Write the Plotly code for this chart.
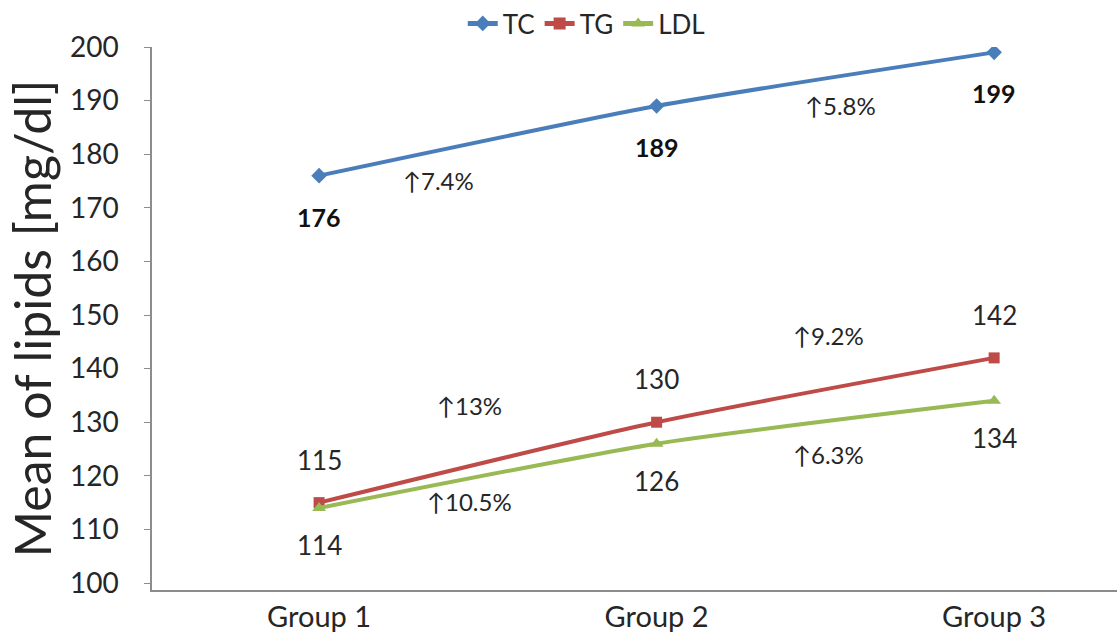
import plotly.graph_objects as go

groups = ["Group 1", "Group 2", "Group 3"]
tc = [176, 189, 199]
tg = [115, 130, 142]
ldl = [114, 126, 134]

# percentage change labels: (text, x position in category units, y value)
pct_labels = [
    ("↑7.4%", 0.353, 175.1),
    ("↑5.8%", 1.544, 189.1),
    ("↑13%", 0.447, 133.1),
    ("↑9.2%", 1.508, 146.2),
    ("↑10.5%", 0.447, 115.3),
    ("↑6.3%", 1.508, 123.9),
]

FONT = "Lato"
TXT = "#262626"

xs = [0, 1, 2]
fig = go.Figure()
series = [
    ("TC", tc, "#4A7EBB", "diamond", 12),
    ("TG", tg, "#BE4B48", "square", 11),
    ("LDL", ldl, "#98B954", "triangle-up", 12),
]
for name, vals, col, sym, ms in series:
    fig.add_trace(go.Scatter(
        x=xs, y=vals, name=name, mode="lines+markers",
        line=dict(color=col, width=4, shape="spline", smoothing=0.6),
        marker=dict(symbol=sym, size=ms, color=col),
    ))

annotations = []
for i, v in enumerate(tc):
    annotations.append(dict(x=xs[i], y=v, text=f"<b>{v}</b>", showarrow=False,
                            yshift=-41, font=dict(size=25, color="#111111", family=FONT)))
for i, v in enumerate(tg):
    annotations.append(dict(x=xs[i], y=v, text=str(v), showarrow=False,
                            yshift=43, font=dict(size=26, color=TXT, family=FONT)))
for i, v in enumerate(ldl):
    annotations.append(dict(x=xs[i], y=v, text=str(v), showarrow=False,
                            yshift=-37, font=dict(size=26, color=TXT, family=FONT)))
for t, x, y in pct_labels:
    annotations.append(dict(x=x, y=y, text=t, showarrow=False,
                            font=dict(size=24, color=TXT, family=FONT)))

fig.update_layout(
    width=1117, height=641,
    margin=dict(l=152, r=0, t=45, b=51),
    paper_bgcolor="white", plot_bgcolor="white",
    font=dict(family=FONT, color=TXT),
    showlegend=True,
    legend=dict(orientation="h", x=0.45, xanchor="center", y=1.0, yanchor="bottom",
                font=dict(size=26, color=TXT, family=FONT),
                itemwidth=30, tracegroupgap=0, itemsizing="constant",
                bgcolor="rgba(0,0,0,0)"),
    annotations=annotations,
)
fig.update_xaxes(
    range=[-0.495, 2.364], tickmode="array", tickvals=xs, ticktext=groups,
    showgrid=False, zeroline=False, showline=True, linecolor="#8c8c8c", linewidth=1.5,
    ticks="", tickfont=dict(size=29, color=TXT, family=FONT),
)
fig.update_yaxes(
    range=[98.7, 200], tickmode="array", tickvals=list(range(100, 201, 10)),
    showgrid=False, zeroline=False,
    showline=True, linecolor="#8c8c8c", linewidth=1.5,
    ticks="outside", ticklen=6, tickcolor="#8c8c8c",
    tickfont=dict(size=28, color=TXT, family=FONT), ticklabelstandoff=20,
    title=dict(text="Mean of lipids [mg/dl]", font=dict(size=50, color=TXT, family=FONT), standoff=2),
)

fig.write_html("out.html")
